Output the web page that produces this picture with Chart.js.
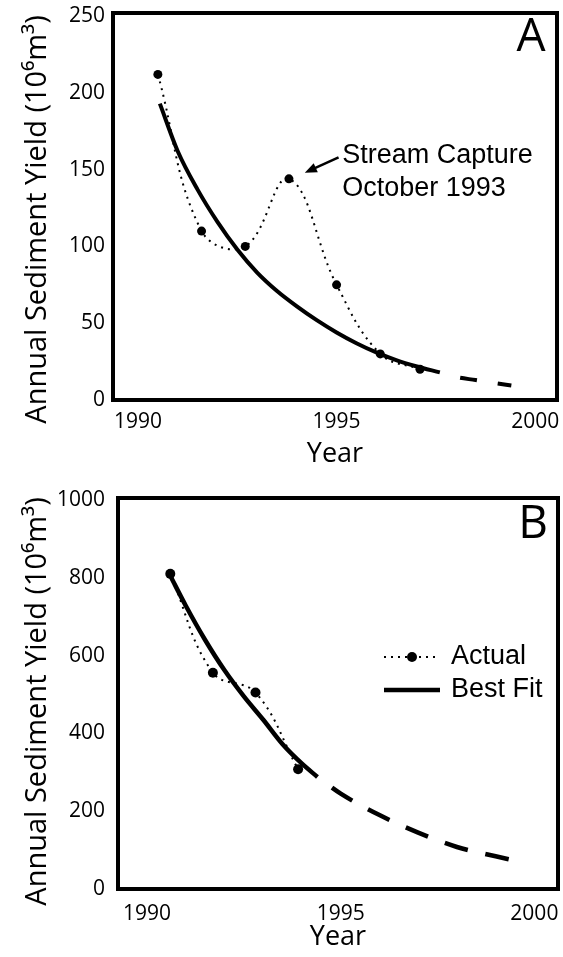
<!DOCTYPE html>
<html>
<head>
<meta charset="utf-8">
<script src="https://cdn.jsdelivr.net/npm/chart.js@4.4.1/dist/chart.umd.min.js"></script>
<style>
  body { margin: 0; background: #fff; }
  canvas { position: absolute; left: 0; }
  #chartA { top: 0; }
  #chartB { top: 480px; }
</style>
</head>
<body>
<canvas id="chartA" width="563" height="480"></canvas>
<canvas id="chartB" width="563" height="477"></canvas>
<script>
// panel A
const actualYearsA = [1990.5, 1991.6, 1992.7, 1993.8, 1995.0, 1996.1, 1997.1];
const actualA = [212, 110, 100, 144, 75, 30, 20];
const fitYearsA = [1990.55, 1991, 1991.5, 1992, 1992.5, 1993, 1993.5, 1994, 1994.5, 1995, 1995.5, 1996, 1996.5, 1997, 1997.6];
const fitA = [193, 162, 137, 116, 98, 83, 71, 61, 52, 44, 37, 31, 26, 22, 18];
const projYearsA = [1997.6, 1998, 1998.5, 1999, 1999.4];
const projA = [18, 15, 13, 11, 9.5];
const yTicksA = [0, 50, 100, 150, 200, 250];

// panel B
const actualYearsB = [1990.6, 1991.7, 1992.8, 1993.9];
const actualB = [810, 556, 505, 308];
const fitYearsB = [1990.6, 1991, 1991.5, 1992, 1992.5, 1993, 1993.5, 1994, 1994.4];
const fitB = [805, 728, 640, 562, 495, 435, 372, 322, 288];
const projYearsB = [1994.4, 1995, 1996, 1997, 1998, 1999, 1999.5];
const projB = [288, 245, 190, 145, 108, 84, 73];
const yTicksB = [0, 200, 400, 600, 800, 1000];

const yearTicks = [1990, 1995, 2000];
const yTitle = "Annual Sediment Yield (10⁶m³)";

const pts = (xs, ys) => xs.map((x, i) => ({ x: x, y: ys[i] }));

const tickFont = { family: "Open Sans", size: 21 };

// box round the plot area
const frame = {
  id: "frame",
  afterDraw(chart) {
    const { ctx, chartArea: a } = chart;
    ctx.save();
    ctx.strokeStyle = "#000";
    ctx.lineWidth = 4;
    ctx.strokeRect(a.left, a.top, a.right - a.left, a.bottom - a.top);
    ctx.restore();
  },
};

// rotated y title, placed by hand so it sits like the original
const sideTitle = {
  id: "sideTitle",
  afterDraw(chart, args, opts) {
    const { ctx, chartArea: a } = chart;
    ctx.save();
    ctx.fillStyle = "#000";
    ctx.font = "29px 'Open Sans'";
    ctx.textAlign = "center";
    ctx.textBaseline = "middle";
    ctx.translate(opts.x, (a.top + a.bottom) / 2 + opts.shift);
    ctx.rotate(-Math.PI / 2);
    ctx.fillText(opts.text, 0, 0);
    ctx.restore();
  },
};

// big A / B letter in the corner
const panelLabel = {
  id: "panelLabel",
  afterDraw(chart, args, opts) {
    const { ctx, chartArea: a } = chart;
    ctx.save();
    ctx.fillStyle = "#000";
    ctx.font = "46px 'Open Sans'";
    ctx.textAlign = "center";
    ctx.textBaseline = "middle";
    ctx.fillText(opts.text, a.right - opts.dx, a.top + opts.dy);
    ctx.restore();
  },
};

// "Stream Capture" note with arrow
const note = {
  id: "note",
  afterDraw(chart, args, opts) {
    if (!opts.lines) return;
    const { ctx, scales } = chart;
    const x = scales.x, y = scales.y;
    const tx = x.getPixelForValue(opts.tip[0]), ty = y.getPixelForValue(opts.tip[1]);
    const sx = x.getPixelForValue(opts.tail[0]), sy = y.getPixelForValue(opts.tail[1]);
    ctx.save();
    ctx.strokeStyle = "#000";
    ctx.fillStyle = "#000";
    ctx.lineWidth = 2.5;
    const ang = Math.atan2(ty - sy, tx - sx);
    ctx.beginPath();
    ctx.moveTo(sx, sy);
    ctx.lineTo(tx - 8 * Math.cos(ang), ty - 8 * Math.sin(ang));
    ctx.stroke();
    ctx.beginPath();
    ctx.moveTo(tx, ty);
    ctx.lineTo(tx - 12 * Math.cos(ang) + 5 * Math.sin(ang), ty - 12 * Math.sin(ang) - 5 * Math.cos(ang));
    ctx.lineTo(tx - 12 * Math.cos(ang) - 5 * Math.sin(ang), ty - 12 * Math.sin(ang) + 5 * Math.cos(ang));
    ctx.closePath();
    ctx.fill();
    ctx.font = "27px 'Liberation Sans'";
    ctx.textBaseline = "middle";
    opts.lines.forEach((l) => {
      ctx.fillText(l.text, x.getPixelForValue(opts.textX), y.getPixelForValue(l.y));
    });
    ctx.restore();
  },
};

// legend drawn inside the plot (panel B)
const boxLegend = {
  id: "boxLegend",
  afterDraw(chart, args, opts) {
    if (!opts.show) return;
    const { ctx } = chart;
    const ds = chart.data.datasets;
    const actual = ds.find((d) => d.label === "Actual");
    const fit = ds.find((d) => d.label === "Best Fit");
    ctx.save();
    ctx.strokeStyle = "#000";
    ctx.fillStyle = "#000";
    ctx.lineWidth = actual.borderWidth;
    ctx.setLineDash(actual.borderDash);
    ctx.beginPath();
    ctx.moveTo(opts.x0, opts.y1);
    ctx.lineTo(opts.x1, opts.y1);
    ctx.stroke();
    ctx.setLineDash([]);
    ctx.beginPath();
    ctx.arc((opts.x0 + opts.x1) / 2, opts.y1, actual.pointRadius, 0, Math.PI * 2);
    ctx.fill();
    ctx.lineWidth = fit.borderWidth;
    ctx.beginPath();
    ctx.moveTo(opts.x0, opts.y2);
    ctx.lineTo(opts.x1, opts.y2);
    ctx.stroke();
    ctx.font = "27px 'Liberation Sans'";
    ctx.textBaseline = "middle";
    ctx.fillText(actual.label, opts.x1 + 11, opts.y1);
    ctx.fillText(fit.label, opts.x1 + 11, opts.y2);
    ctx.restore();
  },
};

// keep tick labels from pushing the plot area around
function noEdgePadding(s) {
  s.paddingTop = 0;
  s.paddingBottom = 0;
  s.paddingLeft = 0;
  s.paddingRight = 0;
}

function makeChart(id, cfg) {
  new Chart(document.getElementById(id), {
    type: "scatter",
    data: {
      datasets: [
        {
          label: "Best Fit",
          data: pts(cfg.fitYears, cfg.fit),
          showLine: true,
          borderColor: "#000",
          borderWidth: cfg.fitWidth,
          pointRadius: 0,
          tension: 0.4,
          cubicInterpolationMode: "monotone",
        },
        {
          label: "Projection",
          data: pts(cfg.projYears, cfg.proj),
          showLine: true,
          borderColor: "#000",
          borderWidth: cfg.fitWidth,
          borderDash: cfg.dash,
          borderDashOffset: cfg.dash[0],
          borderCapStyle: "butt",
          pointRadius: 0,
          tension: 0.4,
          cubicInterpolationMode: "monotone",
        },
        {
          label: "Actual",
          data: pts(cfg.actualYears, cfg.actual),
          showLine: true,
          borderColor: "#000",
          borderWidth: 2,
          borderDash: [2, 5],
          backgroundColor: "#000",
          pointBackgroundColor: "#000",
          pointBorderWidth: 0,
          pointRadius: cfg.pointRadius,
          tension: 0.4,
        },
      ],
    },
    options: {
      responsive: false,
      animation: false,
      events: [],
      layout: { padding: { top: cfg.padTop, right: cfg.padRight, left: 0, bottom: 0 } },
      scales: {
        x: {
          type: "linear",
          min: cfg.xMin,
          max: cfg.xMax,
          afterFit: (s) => { s.height = cfg.xHeight; noEdgePadding(s); },
          afterBuildTicks: (s) => { s.ticks = yearTicks.map((v) => ({ value: v })); },
          grid: { display: false, drawTicks: false },
          border: { display: false },
          ticks: { color: "#000", font: tickFont, padding: cfg.xTickPad, callback: (v) => String(v) },
          title: { display: true, text: "Year", color: "#000", font: { family: "Open Sans", size: 27 }, padding: { top: 0, bottom: cfg.yearPad } },
        },
        y: {
          min: 0,
          max: cfg.yMax,
          afterFit: (s) => { s.width = cfg.yWidth; noEdgePadding(s); },
          afterBuildTicks: (s) => { s.ticks = cfg.yTicks.map((v) => ({ value: v })); },
          grid: { display: false, drawTicks: false },
          border: { display: false },
          ticks: { color: "#000", font: tickFont, padding: cfg.yTickPad, callback: (v) => String(v) },
        },
      },
      plugins: {
        legend: { display: false },
        tooltip: { enabled: false },
        sideTitle: { text: yTitle, x: 38, shift: cfg.titleShift },
        panelLabel: cfg.label,
        note: cfg.note || {},
        boxLegend: cfg.legend || { show: false },
      },
    },
    plugins: [frame, sideTitle, panelLabel, note, boxLegend],
  });
}

makeChart("chartA", {
  actualYears: actualYearsA, actual: actualA,
  fitYears: fitYearsA, fit: fitA,
  projYears: projYearsA, proj: projA,
  yTicks: yTicksA, yMax: 252,
  xMin: 1989.37, xMax: 2000.55,
  padTop: 13, padRight: 6, xHeight: 80, yWidth: 113,
  xTickPad: 9, yTickPad: 8, yearPad: 9, titleShift: 13,
  fitWidth: 4, dash: [17, 21], pointRadius: 4.5,
  label: { text: "A", dx: 26, dy: 25 },
  note: {
    tip: [1994.2, 148], tail: [1995.05, 158], textX: 1995.14,
    lines: [{ text: "Stream Capture", y: 159 }, { text: "October 1993", y: 138 }],
  },
});

makeChart("chartB", {
  actualYears: actualYearsB, actual: actualB,
  fitYears: fitYearsB, fit: fitB,
  projYears: projYearsB, proj: projB,
  yTicks: yTicksB, yMax: 1005,
  xMin: 1989.25, xMax: 2000.61,
  padTop: 18, padRight: 3, xHeight: 68, yWidth: 118,
  xTickPad: 12, yTickPad: 13, yearPad: 3, titleShift: 8,
  fitWidth: 4.5, dash: [24, 18], pointRadius: 5,
  label: { text: "B", dx: 25, dy: 27 },
  legend: { show: true, x0: 384, x1: 440, y1: 177, y2: 210 },
});
</script>
</body>
</html>
